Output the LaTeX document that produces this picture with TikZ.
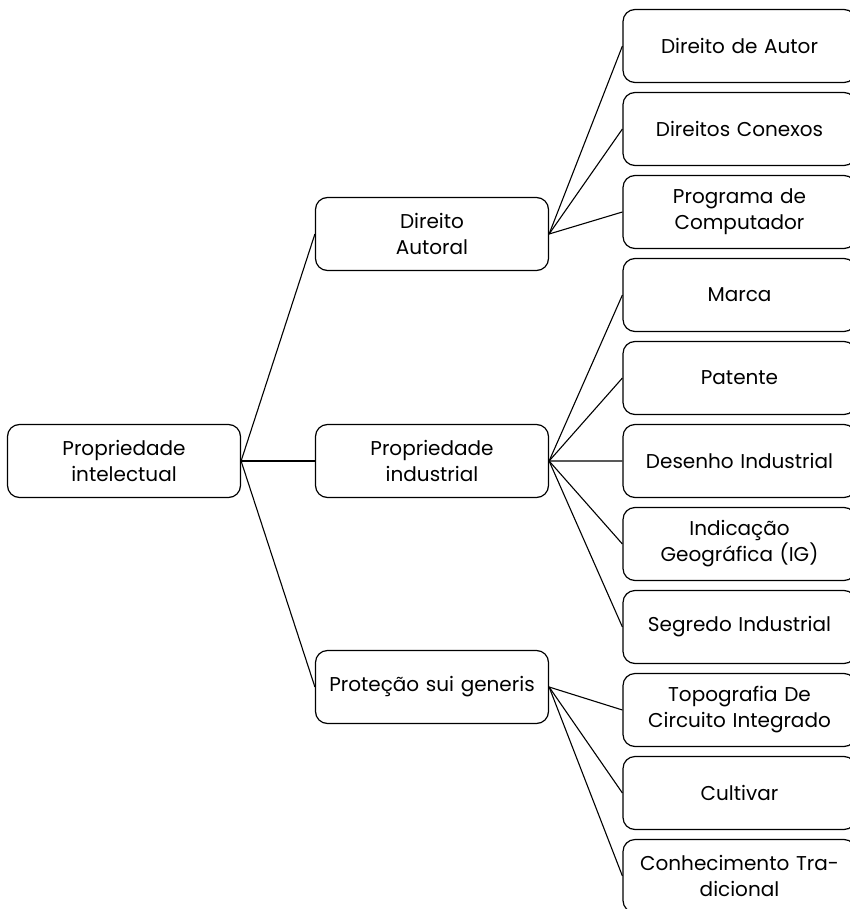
\documentclass[tikz,border=0pt]{standalone}
\usepackage{fontspec}
\setmainfont{Poppins}
\usetikzlibrary{positioning}

\begin{document}
\begin{tikzpicture}[x=1pt,y=-1pt,
  box/.style={draw, rounded corners=12pt, line width=1.2pt, minimum width=233pt, minimum height=73pt, text width=225pt, align=center, font=\fontsize{20}{26}\selectfont},
  link/.style={line width=1.1pt},
  node distance=8.8pt]
\useasboundingbox (0,0) rectangle (850,909);
\clip (0,0) rectangle (850,909);
%%Root and middle column
\node[box] (pi) at (124,461) {Propriedade\\intelectual};
\node[box] (da) at (432,234) {Direito\\Autoral};
\node[box] (pind) at (432,461) {Propriedade\\industrial};
\node[box] (psg) at (432,687) {Proteção sui generis};
%%Right column
\node[box] (dau) at (739.5,46) {Direito de Autor};
\node[box, below=of dau] (dcon) {Direitos Conexos};
\node[box, below=of dcon] (prog) {Programa de\\Computador};
\node[box, below=of prog] (marca) {Marca};
\node[box, below=of marca] (pat) {Patente};
\node[box, below=of pat] (dind) {Desenho Industrial};
\node[box, below=of dind] (ig) {Indicação\\Geográfica (IG)};
\node[box, below=of ig] (sind) {Segredo Industrial};
\node[box, below=of sind] (topo) {Topografia De\\Circuito Integrado};
\node[box, below=of topo] (cult) {Cultivar};
\node[box, below=of cult] (ctrad) {Conhecimento Tra-\\dicional};
%%Links
\foreach \child in {da,pind,psg}
  \draw[link] (pi.east) -- (\child.west);
\foreach \child in {dau,dcon,prog}
  \draw[link] (da.east) -- (\child.west);
\foreach \child in {marca,pat,dind,ig,sind}
  \draw[link] (pind.east) -- (\child.west);
\foreach \child in {topo,cult,ctrad}
  \draw[link] (psg.east) -- (\child.west);
\end{tikzpicture}
\end{document}
